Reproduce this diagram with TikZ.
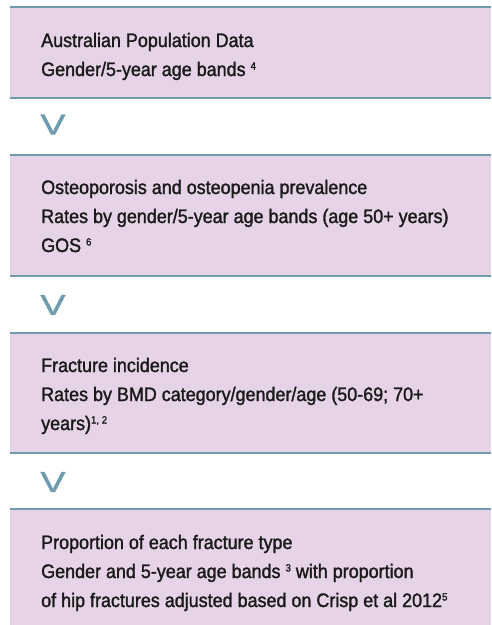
\documentclass[tikz,border=0pt]{standalone}
\usepackage{fontspec}
\setmainfont[FakeStretch=0.92,FakeBold=1.5]{Liberation Sans}
\newfontfamily\chevfont[FakeBold=1.2]{Liberation Sans}
\usetikzlibrary{positioning}
\definecolor{panelfill}{HTML}{E6D3E7}
\definecolor{rulecol}{HTML}{6F9BAF}
\definecolor{inkcol}{HTML}{1A1A1A}
\newcommand{\refmark}[1]{\raisebox{6.5pt}{\fontsize{10.5}{10.5}\selectfont #1}}

\begin{document}
\begin{tikzpicture}[
	x=1pt, y=-1pt,
	panel/.style={
		fill=panelfill,
		anchor=north west,
		minimum width=481pt,
		inner sep=0pt,
		outer sep=0pt
	},
	rule/.style={
		draw=rulecol,
		line width=2.5pt
	},
	entry/.style={
		anchor=base west,
		inner sep=0pt,
		align=left,
		text=inkcol,
		font=\fontsize{19.5}{29}\selectfont
	},
	chevron/.style={
		inner sep=0pt,
		text=rulecol,
		font=\chevfont\fontsize{29}{29}\selectfont
	}
	]
	
	\useasboundingbox (0,0) rectangle (491,625);
	
	% panels
	\node[panel, minimum height=91pt] (pop) at (10,7) {};
	\node[panel, minimum height=121pt] (prev) at (10,155) {};
	\node[panel, minimum height=120pt] (inc) at (10,333) {};
	\node[panel, minimum height=116pt] (prop) at (10,509) {};
	
	% rules
	\draw[rule] (pop.north west) -- (pop.north east);
	\draw[rule] (pop.south west) -- (pop.south east);
	\draw[rule] (prev.north west) -- (prev.north east);
	\draw[rule] (prev.south west) -- (prev.south east);
	\draw[rule] (inc.north west) -- (inc.north east);
	\draw[rule] (inc.south west) -- (inc.south east);
	\draw[rule] (prop.north west) -- (prop.north east);
	
	% texts (base = last line)
	\node[entry] (poptext) at (41,76) {
		Australian Population Data\\
		Gender/5-year age bands \refmark{4}
	};
	\node[entry] (prevtext) at (41,252) {
		Osteoporosis and osteopenia prevalence\\
		Rates by gender/5-year age bands (age 50+ years)\\
		GOS \refmark{6}
	};
	\node[entry] (inctext) at (41,430) {
		Fracture incidence\\
		Rates by BMD category/gender/age (50-69; 70+\\
		years)\refmark{1, 2}
	};
	\node[entry] (proptext) at (41,607) {
		Proportion of each fracture type\\
		Gender and 5-year age bands \refmark{3} with proportion\\
		of hip fractures adjusted based on Crisp et al 2012\refmark{5}
	};
	
	% chevrons
	\node[chevron] (step1) at (53,124.5) {\scalebox{1.3}[1]{V}};
	\node[chevron] (step2) at (53,305) {\scalebox{1.3}[1]{V}};
	\node[chevron] (step3) at (53,482) {\scalebox{1.3}[1]{V}};
	
\end{tikzpicture}
\end{document}
